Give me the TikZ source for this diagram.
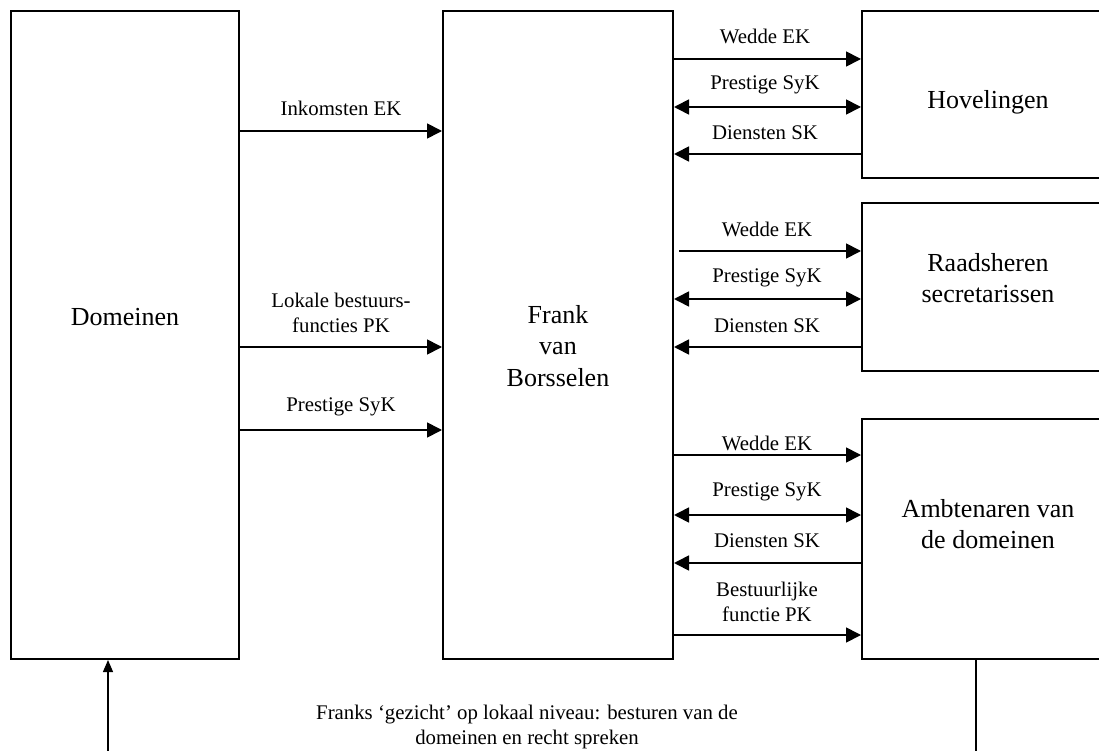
\documentclass[tikz,border=0pt]{standalone}
\usepackage{fontspec}
\setmainfont{Liberation Serif}
\usetikzlibrary{arrows.meta}
\begin{document}
\begin{tikzpicture}[x=1pt,y=-1pt,
  box/.style={draw=black,line width=2pt,inner sep=0pt,fill=none},
  big/.style={font=\fontsize{26}{31.5}\selectfont,align=center,inner sep=0pt},
  lbl/.style={font=\fontsize{20.8}{24.5}\selectfont,align=center,inner sep=0pt},
  arr/.style={line width=1.7pt,-{Triangle[length=15pt,width=15pt]}},
  darr/.style={line width=1.7pt,{Triangle[length=15pt,width=15pt]}-{Triangle[length=15pt,width=15pt]}},
  thin/.style={line width=1.3pt}]
\useasboundingbox (0,0) rectangle (1099,751);
\clip (0,0) rectangle (1099,751);
% boxes
\node[box,minimum width=228pt,minimum height=648pt] (dom) at (125,335) {};
\node[box,minimum width=230pt,minimum height=648pt] (frank) at (558,335) {};
\node[box,minimum width=252pt,minimum height=167pt] (hov) at (988,94.5) {};
\node[box,minimum width=252pt,minimum height=168pt] (raad) at (988,287) {};
\node[box,minimum width=252pt,minimum height=240pt] (amb) at (988,539) {};
% box texts
\node[big] (tdom) at (125,317) {Domeinen};
\node[big] (tfrank) at (558,346) {Frank\\van\\Borsselen};
\node[big] (thov) at (988,102) {Hovelingen};
\node[big] (traad) at (988,278) {Raadsheren\\secretarissen};
\node[big] (tamb) at (988,524) {Ambtenaren van\\de domeinen};
% left arrows
\draw[arr] (dom.east |- 0,131) -- (frank.west |- 0,131);
\node[lbl] (l1) at (341,108) {Inkomsten EK};
\draw[arr] (dom.east |- 0,347) -- (frank.west |- 0,347);
\node[lbl] (l2) at (341,313) {Lokale bestuurs-\\functies PK};
\draw[arr] (dom.east |- 0,430) -- (frank.west |- 0,430);
\node[lbl] (l3) at (341,407) {Prestige SyK};
% Hovelingen arrows
\draw[arr] (frank.east |- 0,59) -- (hov.west |- 0,59);
\node[lbl] (h1) at (765,36) {Wedde EK};
\draw[darr] (frank.east |- 0,107) -- (hov.west |- 0,107);
\node[lbl] (h2) at (765,85) {Prestige SyK};
\draw[arr] (hov.west |- 0,154) -- (frank.east |- 0,154);
\node[lbl] (h3) at (765,133) {Diensten SK};
% Raadsheren arrows
\coordinate (rs) at (679,251);
\draw[arr] (rs) -- (raad.west |- rs);
\node[lbl] (r1) at (767,229) {Wedde EK};
\draw[darr] (frank.east |- 0,299) -- (raad.west |- 0,299);
\node[lbl] (r2) at (767,278) {Prestige SyK};
\draw[arr] (raad.west |- 0,347) -- (frank.east |- 0,347);
\node[lbl] (r3) at (767,326) {Diensten SK};
% Ambtenaren arrows
\draw[arr] (frank.east |- 0,455) -- (amb.west |- 0,455);
\node[lbl] (a1) at (767,443) {Wedde EK};
\draw[darr] (frank.east |- 0,515) -- (amb.west |- 0,515);
\node[lbl] (a2) at (767,492) {Prestige SyK};
\draw[arr] (amb.west |- 0,563) -- (frank.east |- 0,563);
\node[lbl] (a3) at (767,541) {Diensten SK};
\draw[arr] (frank.east |- 0,635) -- (amb.west |- 0,635);
\node[lbl] (a4) at (767,602) {Bestuurlijke\\functie PK};
% bottom
\coordinate (b1) at (108,755);
\draw[thin,-{Triangle[length=12pt,width=10pt]}] (b1) -- (b1 |- dom.south);
\coordinate (b2) at (976,755);
\draw[thin] (b2 |- amb.south) -- (b2);
\node[lbl] (cap) at (527,727) {Franks ‘gezicht’ op lokaal niveau: besturen van de\\domeinen en recht spreken};
\end{tikzpicture}
\end{document}
